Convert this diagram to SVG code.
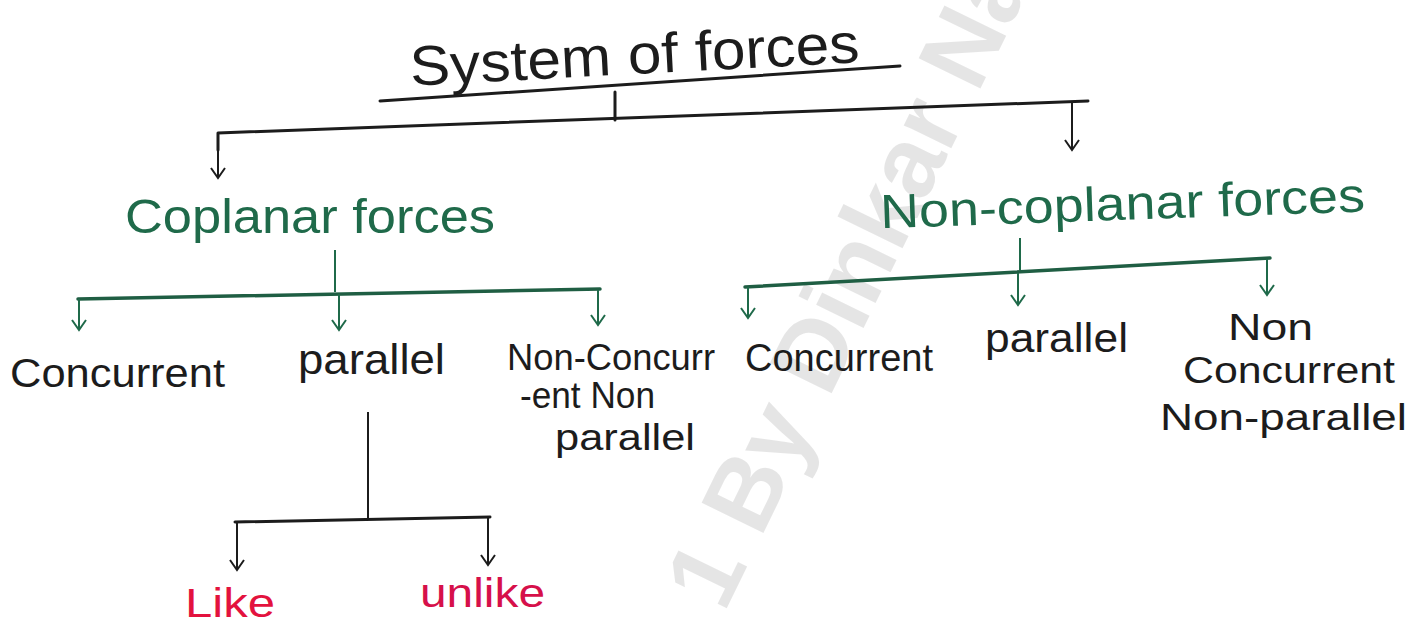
<svg xmlns="http://www.w3.org/2000/svg" width="1418" height="627" viewBox="0 0 1418 627">
  <defs>
    <marker id="ahK" viewBox="-12 -8 14 16" markerWidth="14" markerHeight="16" refX="0" refY="0" orient="auto" markerUnits="userSpaceOnUse">
      <path d="M-10,-7 L0,0 L-10,7" fill="none" stroke="#1c1c1c" stroke-width="2"/>
    </marker>
    <marker id="ahG" viewBox="-12 -8 14 16" markerWidth="14" markerHeight="16" refX="0" refY="0" orient="auto" markerUnits="userSpaceOnUse">
      <path d="M-10,-7 L0,0 L-10,7" fill="none" stroke="#1f6a4a" stroke-width="2"/>
    </marker>
    <style>
      .hand { font-family: "Liberation Sans", "DejaVu Sans", sans-serif; }
      .blk { fill: #1c1c1c; }
      .grn { fill: #1f6a4a; }
      .red { fill: #e3123e; }
      .k { fill: none; stroke: #1c1c1c; stroke-width: 3; stroke-linecap: round; stroke-linejoin: round; }
      .g { fill: none; stroke: #1f5e43; stroke-width: 3.5; stroke-linecap: round; stroke-linejoin: round; }
      .kd { fill: none; stroke: #1c1c1c; stroke-width: 2; }
      .gd { fill: none; stroke: #1f6a4a; stroke-width: 2; }
      .wm { font-family: "Liberation Sans", sans-serif; font-size: 100px; font-weight: bold; fill: #000; fill-opacity: 0.1; }
    </style>
  </defs>
  <rect width="1418" height="627" fill="#ffffff"/>

  <!-- watermark -->
  <text class="wm" transform="translate(724,614) rotate(-64)" x="0" y="0">1 By Dinkar Nar</text>

  <g id="connectors">
    <!-- title underline and tick -->
    <path class="k" d="M380,101 L900,66"/>
    <path class="k" d="M615,92 L615,120" stroke-width="2"/>
    <!-- main split -->
    <path class="k" d="M218,150 L218,133 L1088,101"/>
    <path class="kd" d="M218,140 L218,178" marker-end="url(#ahK)"/>
    <path class="kd" d="M1072,102 L1072,150" marker-end="url(#ahK)"/>
    <!-- coplanar split -->
    <path class="gd" d="M335,250 L335,292"/>
    <path class="g" d="M78,299 L600,289"/>
    <path class="gd" d="M79,299 L79,330" marker-end="url(#ahG)"/>
    <path class="gd" d="M339,294 L339,330" marker-end="url(#ahG)"/>
    <path class="gd" d="M598,290 L598,325" marker-end="url(#ahG)"/>
    <!-- parallel split -->
    <path class="kd" d="M368,412 L368,519"/>
    <path class="k" d="M235,522 L490,517"/>
    <path class="kd" d="M237,522 L237,570" marker-end="url(#ahK)"/>
    <path class="kd" d="M488,517 L488,565" marker-end="url(#ahK)"/>
    <!-- non-coplanar split -->
    <path class="gd" d="M1020,238 L1020,270"/>
    <path class="g" d="M745,287 L1270,258"/>
    <path class="gd" d="M748,287 L748,318" marker-end="url(#ahG)"/>
    <path class="gd" d="M1018,273 L1018,305" marker-end="url(#ahG)"/>
    <path class="gd" d="M1267,259 L1267,295" marker-end="url(#ahG)"/>
  </g>

  <g id="system-of-forces">
    <text class="hand blk" x="410" y="74" font-size="56" textLength="450" lengthAdjust="spacingAndGlyphs" transform="rotate(-3 635 64)">System of forces</text>
  </g>
  <g id="coplanar-forces">
    <text class="hand grn" x="125" y="233" font-size="48" textLength="370" lengthAdjust="spacingAndGlyphs">Coplanar forces</text>
  </g>
  <g id="non-coplanar-forces">
    <text class="hand grn" x="880" y="220" font-size="48" textLength="485" lengthAdjust="spacingAndGlyphs" transform="rotate(-2 1120 205)">Non-coplanar forces</text>
  </g>

  <g id="concurrent-1">
    <text class="hand blk" x="10" y="387" font-size="40" textLength="215" lengthAdjust="spacingAndGlyphs">Concurrent</text>
  </g>
  <g id="parallel-1">
    <text class="hand blk" x="298" y="374" font-size="42" textLength="147" lengthAdjust="spacingAndGlyphs">parallel</text>
  </g>
  <g id="non-concurrent-non-parallel-1">
    <text class="hand blk" font-size="36">
      <tspan x="507" y="370" textLength="208" lengthAdjust="spacingAndGlyphs">Non-Concurr</tspan>
      <tspan x="520" y="408" textLength="135" lengthAdjust="spacingAndGlyphs">-ent Non</tspan>
      <tspan x="555" y="450" textLength="140" lengthAdjust="spacingAndGlyphs">parallel</tspan>
    </text>
  </g>

  <g id="concurrent-2">
    <text class="hand blk" x="745" y="371" font-size="38" textLength="188" lengthAdjust="spacingAndGlyphs">Concurrent</text>
  </g>
  <g id="parallel-2">
    <text class="hand blk" x="985" y="352" font-size="40" textLength="143" lengthAdjust="spacingAndGlyphs">parallel</text>
  </g>
  <g id="non-concurrent-non-parallel-2">
    <text class="hand blk" font-size="36">
      <tspan x="1228" y="340" textLength="85" lengthAdjust="spacingAndGlyphs">Non</tspan>
      <tspan x="1183" y="383" textLength="212" lengthAdjust="spacingAndGlyphs">Concurrent</tspan>
      <tspan x="1160" y="430" textLength="247" lengthAdjust="spacingAndGlyphs">Non-parallel</tspan>
    </text>
  </g>

  <g id="like">
    <text class="hand red" x="185" y="617" font-size="40" textLength="90" lengthAdjust="spacingAndGlyphs">Like</text>
  </g>
  <g id="unlike">
    <text class="hand red" x="420" y="607" font-size="40" textLength="125" lengthAdjust="spacingAndGlyphs" style="fill:#d6104a">unlike</text>
  </g>
</svg>
